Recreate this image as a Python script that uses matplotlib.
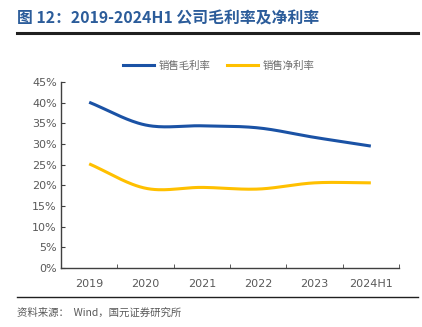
import numpy as np
import matplotlib
matplotlib.use("Agg")
import matplotlib.pyplot as plt
from matplotlib.lines import Line2D

plt.rcParams['font.family'] = ['Noto Sans CJK SC', 'DejaVu Sans']

categories = ['2019', '2020', '2021', '2022', '2023', '2024H1']
gross_margin = [40.1, 34.6, 34.4, 33.9, 31.6, 29.5]
net_margin = [25.2, 19.3, 19.5, 19.1, 20.6, 20.6]
series_names = ['销售毛利率', '销售净利率']
yticks = list(range(0, 50, 5))

BLUE = '#1a52a5'
GOLD = '#ffc000'
GREY = '#595959'


def smooth(xs, ys, n=30):
    """Catmull-Rom curve through the given points (Excel-style smoothed line)."""
    xs = np.asarray(xs, float)
    ys = np.asarray(ys, float)
    px = np.concatenate([[2 * xs[0] - xs[1]], xs, [2 * xs[-1] - xs[-2]]])
    py = np.concatenate([[2 * ys[0] - ys[1]], ys, [2 * ys[-1] - ys[-2]]])
    outx, outy = [], []
    for i in range(1, len(px) - 2):
        t = np.linspace(0, 1, n, endpoint=(i == len(px) - 3))
        for p, out in ((px, outx), (py, outy)):
            p0, p1, p2, p3 = p[i - 1], p[i], p[i + 1], p[i + 2]
            m1 = (p2 - p0) / 2
            m2 = (p3 - p1) / 2
            h00 = 2 * t**3 - 3 * t**2 + 1
            h10 = t**3 - 2 * t**2 + t
            h01 = -2 * t**3 + 3 * t**2
            h11 = t**3 - t**2
            out.extend(h00 * p1 + h10 * m1 + h01 * p2 + h11 * m2)
    return np.array(outx), np.array(outy)


fig = plt.figure(figsize=(4.22, 3.27), dpi=100)
ax = fig.add_axes([61 / 422, 1 - 268 / 327, 338 / 422, 186 / 327])

x = np.arange(len(categories))
for vals, color in ((gross_margin, BLUE), (net_margin, GOLD)):
    sx, sy = smooth(x, vals)
    ax.plot(sx, sy, color=color, lw=2.2, solid_capstyle='butt')

ax.set_xlim(-0.5, len(categories) - 0.5)
ax.set_ylim(0, 45)
ax.set_yticks(yticks)
ax.set_yticklabels([f'{v}%' for v in yticks], fontsize=8, color=GREY,
                   family=['DejaVu Sans'])
ax.set_xticks(x)
ax.set_xticklabels(categories, fontsize=8, color=GREY, family=['DejaVu Sans'])
ax.set_xticks(np.arange(-0.5, len(categories), 1), minor=True)
ax.tick_params(axis='x', which='major', length=0, pad=8)
ax.tick_params(axis='x', which='minor', direction='in', length=3, color='#404040')
ax.tick_params(axis='y', direction='in', length=3, color='#404040', pad=3)
for s in ('top', 'right'):
    ax.spines[s].set_visible(False)
for s in ('left', 'bottom'):
    ax.spines[s].set_color('#404040')
    ax.spines[s].set_linewidth(1.0)

handles = [Line2D([0], [0], color=BLUE, lw=2.2), Line2D([0], [0], color=GOLD, lw=2.2)]
fig.legend(handles, series_names, loc='center', bbox_to_anchor=(219 / 422, 1 - 66 / 327),
           ncol=2, frameon=False, handlelength=2.9, handletextpad=0.5,
           columnspacing=1.6, labelcolor='#6a6a6a',
           prop={'family': ['Noto Sans CJK SC'], 'size': 7.5})

fig.text(17 / 422, 1 - 18 / 327, '图 12：2019-2024H1 公司毛利率及净利率',
         fontsize=11.4, fontweight='bold', color='#2b5c9a', va='center', ha='left')
fig.add_artist(Line2D([17 / 422, 418 / 422], [1 - 33 / 327] * 2, color='#202020', lw=2.2))
fig.add_artist(Line2D([17 / 422, 418 / 422], [1 - 297 / 327] * 2, color='#202020', lw=1.0))
fig.text(17 / 422, 1 - 313 / 327, '资料来源：  Wind，国元证券研究所',
         fontsize=7.5, color=GREY, va='center', ha='left')

fig.savefig('out.png', dpi=100)
